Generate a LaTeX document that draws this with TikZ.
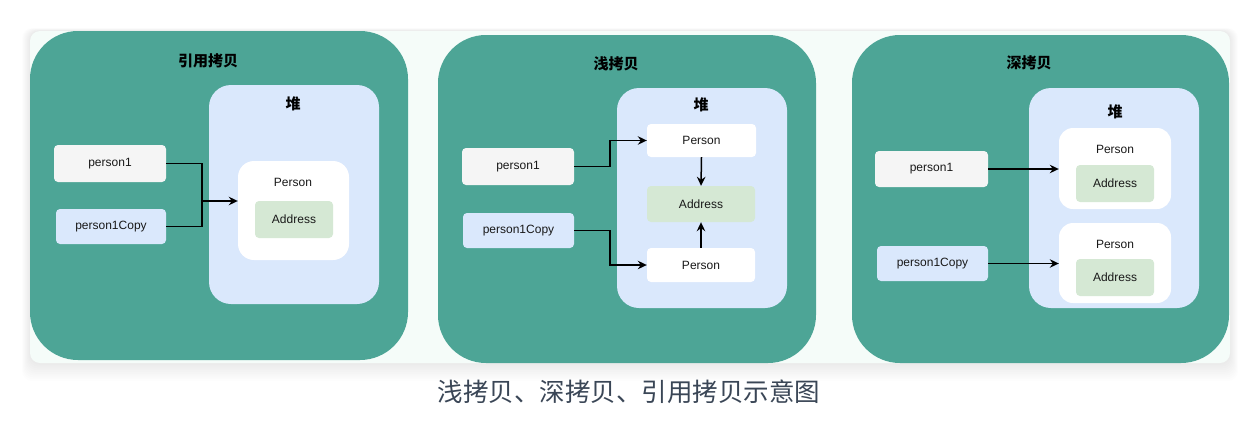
\documentclass[tikz,border=0pt]{standalone}
\usepackage{fontspec}
\setmainfont{Liberation Sans}
\newfontfamily\cjk{Noto Sans CJK SC}
\usetikzlibrary{arrows.meta}
\definecolor{tealbg}{HTML}{4DA596}
\definecolor{mint}{HTML}{F5FCF9}
\definecolor{heapc}{HTML}{DAE8FC}
\definecolor{greyc}{HTML}{F5F5F5}
\definecolor{addrc}{HTML}{D5E8D4}
\definecolor{capc}{HTML}{3A4656}
\begin{document}
\begin{tikzpicture}[x=1pt,y=-1pt,
  panel/.style={fill=tealbg, rounded corners=48pt, inner sep=0pt},
  heap/.style={fill=heapc, rounded corners=22pt, inner sep=0pt},
  objbox/.style={fill=white, rounded corners=14pt, inner sep=0pt},
  small/.style={rounded corners=4pt, inner sep=0pt, font=\fontsize{12pt}{14pt}\selectfont, text=black!90},
  varbox/.style={small, fill=greyc},
  copybox/.style={small, fill=heapc},
  addr/.style={small, fill=addrc},
  wbox/.style={small, fill=white},
  lbl/.style={inner sep=0pt, font=\fontsize{12pt}{14pt}\selectfont, text=black!90},
  ttl/.style={inner sep=0pt, font=\cjk\bfseries\fontsize{15pt}{17pt}\selectfont},
  conn/.style={line width=1.5pt, black},
  arr/.style={conn, -{Stealth[length=9pt,width=8.5pt,inset=3pt]}}
]
\useasboundingbox (0,0) rectangle (1256,434);
\fill[white] (0,0) rectangle (1256,434);
% soft shadow
\foreach \i in {1,...,10}{
  \fill[black, opacity=0.006, rounded corners=10pt] (30-\i*0.8,31-\i*0.3) rectangle (1230+\i*0.8,363+\i*1.8);
}
\fill[mint, rounded corners=10pt] (30,31) rectangle (1230,363);

% ---------- panel 1: reference copy ----------
\node[panel, minimum width=378pt, minimum height=329pt] (P1) at (219,195.5) {};
\node[ttl] (T1) at (208,61) {引用拷贝};
\node[heap, minimum width=170pt, minimum height=219pt] (H1) at (294,194.5) {};
\node[ttl] (HL1) at (293,104) {堆};
\node[objbox, rounded corners=16pt, minimum width=111pt, minimum height=99pt] (PB1) at (293.5,210.5) {};
\node[lbl] (PL1) at (293,182) {Person};
\node[addr, minimum width=78pt, minimum height=37pt] (AD1) at (294,219.5) {Address};
\node[varbox, minimum width=112pt, minimum height=37pt] (A1) at (110,163.5) {person1};
\node[copybox, minimum width=110pt, minimum height=35pt] (B1) at (111,226.5) {person1Copy};
\coordinate (J1) at (202,201);
\draw[conn] (A1.east) -| (J1);
\draw[conn] (B1.east) -| (J1);
\draw[arr] (J1) -- (PB1.west |- J1);

% ---------- panel 2: shallow copy ----------
\node[panel, minimum width=378pt, minimum height=328pt] (P2) at (627,199) {};
\node[ttl] (T2) at (616,64) {浅拷贝};
\node[heap, minimum width=170pt, minimum height=220pt] (H2) at (702,198) {};
\node[ttl] (HL2) at (701,105) {堆};
\node[wbox, minimum width=109pt, minimum height=33pt] (PT2) at (701.5,140.5) {Person};
\node[addr, minimum width=108pt, minimum height=36pt] (AD2) at (701,204) {Address};
\node[wbox, minimum width=108pt, minimum height=34pt] (PB2) at (701,265) {Person};
\node[varbox, minimum width=112pt, minimum height=37pt] (A2) at (518,166.5) {person1};
\node[copybox, minimum width=111pt, minimum height=35pt] (B2) at (518.5,230.5) {person1Copy};
\draw[arr] (A2.east) -- ++(36,0) |- (PT2.west);
\draw[arr] (B2.east) -- ++(36,0) |- (PB2.west);
\draw[arr] (PT2.south) -- (AD2.north);
\draw[arr] (PB2.north) -- (AD2.south);

% ---------- panel 3: deep copy ----------
\node[panel, minimum width=377pt, minimum height=328pt] (P3) at (1040.5,199) {};
\node[ttl] (T3) at (1029,63) {深拷贝};
\node[heap, minimum width=170pt, minimum height=220pt] (H3) at (1114,198) {};
\node[ttl] (HL3) at (1115,112) {堆};
\node[objbox, minimum width=112pt, minimum height=81pt] (PA3) at (1115,168.5) {};
\node[lbl] (PLA3) at (1115,149) {Person};
\node[addr, minimum width=78pt, minimum height=37pt] (ADA3) at (1115,183.5) {Address};
\node[objbox, minimum width=112pt, minimum height=80pt] (PB3) at (1115,263) {};
\node[lbl] (PLB3) at (1115,244) {Person};
\node[addr, minimum width=78pt, minimum height=37pt] (ADB3) at (1115,277.5) {Address};
\node[varbox, minimum width=113pt, minimum height=36pt] (A3) at (931.5,169) {person1};
\node[copybox, minimum width=111pt, minimum height=35pt] (B3) at (932.5,263.5) {person1Copy};
\draw[arr] (A3.east) -- (PA3.west |- A3.east);
\draw[arr] (B3.east) -- (PB3.west |- B3.east);

% ---------- caption ----------
\node[inner sep=0pt, text=capc, font=\cjk\fontsize{25.5pt}{30pt}\selectfont] (CAP) at (629,392) {浅拷贝、深拷贝、引用拷贝示意图};
\end{tikzpicture}
\end{document}
